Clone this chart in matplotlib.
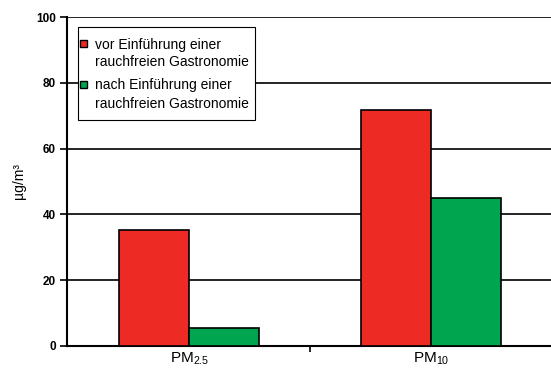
import matplotlib
matplotlib.use("Agg")
import matplotlib.pyplot as plt
import numpy as np
from matplotlib.patches import Rectangle

plt.rcParams['font.family'] = ['Liberation Sans', 'DejaVu Sans']
plt.rcParams['mathtext.fontset'] = 'custom'
plt.rcParams['mathtext.rm'] = 'Liberation Sans'

categories = ["PM$_{\\mathregular{2.5}}$", "PM$_{\\mathregular{10}}$"]
before = [35.3, 71.8]
after = [5.5, 45.0]
series_labels = [["vor Einführung einer", "rauchfreien Gastronomie"],
                 ["nach Einführung einer", "rauchfreien Gastronomie"]]
yticks = [0, 20, 40, 60, 80, 100]

red = "#ee2a24"
green = "#00a64f"
colors = [red, green]

W, H = 551, 371
fig = plt.figure(figsize=(W / 100, H / 100), dpi=100)
ax = fig.add_axes([67/W, 1-346/H, 1-67/W, (346-17)/H])

x = np.arange(len(categories))
w = 0.29
ax.bar(x - w/2, before, w, color=red, edgecolor="black", linewidth=1.2, zorder=3)
ax.bar(x + w/2, after, w, color=green, edgecolor="black", linewidth=1.2, zorder=3)

ax.set_xlim(-0.505, 1.495)
ax.set_ylim(0, 100)
ax.set_yticks(yticks)
ax.set_yticklabels([str(t) for t in yticks], fontweight="bold", fontsize=8.5)
ax.yaxis.grid(True, color="black", linewidth=1.2, zorder=0)
ax.set_axisbelow(True)

ax.set_xticks(x)
ax.set_xticklabels(categories, fontsize=11)
ax.tick_params(axis="x", length=0, pad=3)
ax.set_xticks([0.5], minor=True)
ax.tick_params(axis="x", which="minor", length=4, width=1.2)
ax.tick_params(axis="y", length=5, width=1.2, direction="out", pad=3)

for s in ["top", "right"]:
    ax.spines[s].set_visible(False)
ax.spines["left"].set_linewidth(1.5)
ax.spines["bottom"].set_linewidth(1.5)

ax.set_ylabel("µg/m³", fontsize=10, labelpad=7)


# legend box drawn in figure pixel coordinates (origin at top-left)
def fx(px):
    return px / W


def fy(py):
    return 1 - py / H


frame = Rectangle((fx(78), fy(120)), fx(255) - fx(78), fy(27) - fy(120),
                  transform=fig.transFigure, facecolor="white",
                  edgecolor="black", linewidth=0.8, zorder=10)
fig.add_artist(frame)

entry_tops = [43, 84]
for color, lines, ytop in zip(colors, series_labels, entry_tops):
    fig.add_artist(Rectangle((fx(80), fy(ytop + 3.5)), fx(87) - fx(80),
                             fy(ytop - 3.5) - fy(ytop + 3.5),
                             transform=fig.transFigure, facecolor=color,
                             edgecolor="black", linewidth=1.0, zorder=11))
    for i, line in enumerate(lines):
        fig.text(fx(95), fy(ytop + 18 * i), line, fontsize=10,
                 ha="left", va="center_baseline", zorder=11)

fig.savefig("out.png", dpi=100)
